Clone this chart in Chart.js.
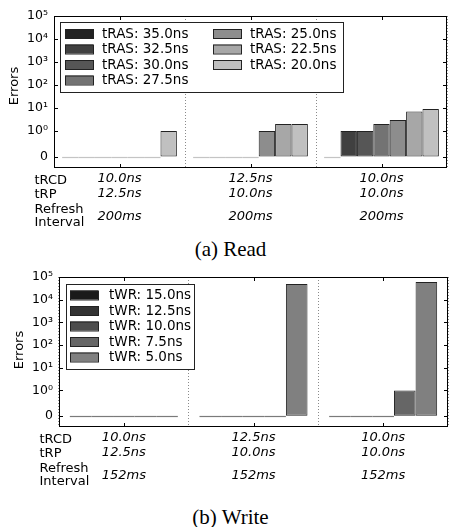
<!DOCTYPE html>
<html>
<head>
<meta charset="utf-8">
<script src="https://cdn.jsdelivr.net/npm/chart.js@4"></script>
<style>
  body { margin: 0; background: #fff; }
  #wrap { position: relative; width: 453px; height: 527px; overflow: hidden; }
  canvas { position: absolute; left: 0; }
  .cap { position: absolute; left: 4px; width: 453px; text-align: center; font-family: 'Liberation Serif', 'Times New Roman', serif; font-size: 21px; line-height: 24px; }
</style>
</head>
<body>
<div id="wrap">
  <canvas id="readChart" width="453" height="235" style="top:0px"></canvas>
  <div class="cap" style="top:237px">(a) Read</div>
  <canvas id="writeChart" width="453" height="235" style="top:262px"></canvas>
  <div class="cap" style="top:505px">(b) Write</div>
</div>
<script>
// three timing configurations (one bar group each)
const groups = ['A', 'B', 'C']
const tRCD = ['10.0ns', '12.5ns', '10.0ns']
const tRP = ['12.5ns', '10.0ns', '10.0ns']
const readRefresh = ['200ms', '200ms', '200ms']
const writeRefresh = ['152ms', '152ms', '152ms']

// read: tRAS sweep
const readLabels = ['tRAS: 35.0ns', 'tRAS: 32.5ns', 'tRAS: 30.0ns', 'tRAS: 27.5ns', 'tRAS: 25.0ns', 'tRAS: 22.5ns', 'tRAS: 20.0ns']
const readColors = ['#222222', '#404040', '#565656', '#737373', '#8d8d8d', '#a7a7a7', '#c0c0c0']
const readErrors = [
  [0, 0, 0],
  [0, 0, 1],
  [0, 0, 1],
  [0, 0, 2],
  [0, 1, 3],
  [0, 2, 7],
  [1, 2, 9],
]

// write: tWR sweep
const writeLabels = ['tWR: 15.0ns', 'tWR: 12.5ns', 'tWR: 10.0ns', 'tWR: 7.5ns', 'tWR: 5.0ns']
const writeColors = ['#1a1a1a', '#333333', '#4d4d4d', '#666666', '#808080']
const writeErrors = [
  [0, 0, 0],
  [0, 0, 0],
  [0, 0, 0],
  [0, 0, 1],
  [0, 49000, 60000],
]

const tickValues = [0, 1, 10, 100, 1000, 10000, 100000]
const tickLabels = ['0', '10\u2070', '10\u00b9', '10\u00b2', '10\u00b3', '10\u2074', '10\u2075']

// matplotlib style symlog, linthresh 1, linscale 1
const linScale = 1 / (1 - 1 / 10)
function symlog(v) {
  return v <= 1 ? v * linScale : Math.log10(v) + linScale
}

const FONT = "'DejaVu Sans', sans-serif"

const paperPlugin = {
  id: 'paper',
  afterDatasetsDraw(chart, args, opts) {
    // zero height bars show as a flat line on the baseline
    const ctx = chart.ctx
    ctx.save()
    ctx.strokeStyle = opts.zeroColor
    ctx.lineWidth = 1.2
    chart.data.datasets.forEach((ds, i) => {
      chart.getDatasetMeta(i).data.forEach((el, j) => {
        if (ds.raw[j] !== 0) return
        ctx.beginPath()
        ctx.moveTo(el.x - el.width / 2, Math.round(el.y) + 0.5)
        ctx.lineTo(el.x + el.width / 2, Math.round(el.y) + 0.5)
        ctx.stroke()
      })
    })
    ctx.restore()
  },
  afterDraw(chart, args, opts) {
    const ctx = chart.ctx
    const ca = chart.chartArea
    const xs = chart.scales.x
    const ys = chart.scales.y
    ctx.save()

    // legend box
    const lg = opts.legend
    ctx.fillStyle = '#fff'
    ctx.fillRect(lg.box[0], lg.box[1], lg.box[2], lg.box[3])
    ctx.strokeStyle = '#222'
    ctx.lineWidth = 1
    ctx.strokeRect(lg.box[0] + 0.5, lg.box[1] + 0.5, lg.box[2], lg.box[3])
    ctx.font = '13.5px ' + FONT
    ctx.textBaseline = 'middle'
    ctx.textAlign = 'left'
    chart.data.datasets.forEach((ds, i) => {
      const col = Math.floor(i / lg.rows)
      const row = i % lg.rows
      const sx = lg.cols[col]
      const sy = lg.y0 + row * lg.step
      ctx.fillStyle = ds.backgroundColor
      ctx.fillRect(sx, sy - 4.5, 28, 9)
      ctx.strokeStyle = '#222'
      ctx.strokeRect(sx + 0.5, sy - 4.5 + 0.5, 28, 9)
      ctx.fillStyle = '#000'
      ctx.fillText(ds.label, sx + lg.textGap, sy + 0.5)
    })

    // frame and inward ticks
    ctx.strokeStyle = '#000'
    ctx.lineWidth = 1
    ctx.strokeRect(ca.left + 0.5, ca.top + 0.5, ca.right - ca.left - 1, ca.bottom - ca.top - 1)
    ctx.beginPath()
    ys.ticks.forEach(t => {
      const y = Math.round(ys.getPixelForValue(t.value)) + 0.5
      ctx.moveTo(ca.left, y); ctx.lineTo(ca.left + 4, y)
      ctx.moveTo(ca.right, y); ctx.lineTo(ca.right - 4, y)
    })
    groups.forEach((g, i) => {
      const x = Math.round(xs.getPixelForValue(i)) + 0.5
      ctx.moveTo(x, ca.bottom); ctx.lineTo(x, ca.bottom - 4)
      ctx.moveTo(x, ca.top); ctx.lineTo(x, ca.top + 4)
    })
    ctx.stroke()

    // axis title
    ctx.fillStyle = '#000'
    ctx.font = '13px ' + FONT
    ctx.save()
    ctx.translate(ca.left - 39, opts.titleY)
    ctx.rotate(-Math.PI / 2)
    ctx.textAlign = 'center'
    ctx.textBaseline = 'middle'
    ctx.fillText('Errors', 0, 0)
    ctx.restore()

    // timing table under the axis
    ctx.textBaseline = 'middle'
    ctx.textAlign = 'left'
    const lx = ca.left - 19.5
    ctx.fillText('tRCD', lx, ca.bottom + 12.7)
    ctx.fillText('tRP', lx, ca.bottom + 26.8)
    ctx.fillText('Refresh', lx, ca.bottom + 41.7)
    ctx.fillText('Interval', lx, ca.bottom + 54.2)
    ctx.font = 'italic 13px ' + FONT
    ctx.textAlign = 'center'
    groups.forEach((g, i) => {
      const x = xs.getPixelForValue(i)
      ctx.fillText(tRCD[i], x, ca.bottom + 11)
      ctx.fillText(tRP[i], x, ca.bottom + 25.5)
      ctx.fillText(opts.refresh[i], x, ca.bottom + 48.5)
    })
    ctx.restore()
  },
}

function makeChart(id, labels, colors, errors, cfg) {
  return new Chart(document.getElementById(id).getContext('2d'), {
    type: 'bar',
    data: {
      labels: groups,
      datasets: labels.map((lab, i) => ({
        label: lab,
        raw: errors[i],
        data: errors[i].map(symlog),
        backgroundColor: colors[i],
        borderColor: '#222',
        borderWidth: 1,
        borderSkipped: false,
        categoryPercentage: cfg.catPct,
        barPercentage: 1,
      })),
    },
    options: {
      responsive: false,
      animation: false,
      layout: { padding: { top: cfg.top, right: cfg.right, left: 0, bottom: 0 } },
      scales: {
        x: {
          offset: true,
          grid: { offset: true, color: '#8a8a8a', lineWidth: 1, drawTicks: false },
          border: { display: false, dash: [1, 2] },
          ticks: { display: false },
          afterFit: s => { s.height = cfg.xHeight },
        },
        y: {
          min: -0.5,
          max: symlog(100000),
          grid: { display: false, drawTicks: false },
          border: { display: false },
          afterBuildTicks: s => { s.ticks = tickValues.map(v => ({ value: symlog(v) })) },
          ticks: {
            padding: 6,
            color: '#000',
            font: { family: FONT, size: 12.5 },
            callback: (v, i) => tickLabels[i],
          },
          afterFit: s => { s.width = cfg.yWidth },
        },
      },
      plugins: {
        legend: { display: false },
        tooltip: { enabled: false },
        paper: cfg.paper,
      },
    },
    plugins: [paperPlugin],
  })
}

makeChart('readChart', readLabels, readColors, readErrors, {
  catPct: 0.876, top: 16, right: 6, xHeight: 67, yWidth: 54,
  paper: {
    zeroColor: '#c4c4c4',
    titleY: 86,
    refresh: readRefresh,
    legend: { box: [60, 22, 283, 70], cols: [65, 213], rows: 4, y0: 33.5, step: 15.5, textGap: 37 },
  },
})

makeChart('writeChart', writeLabels, writeColors, writeErrors, {
  catPct: 0.833, top: 15, right: 5, xHeight: 70, yWidth: 59,
  paper: {
    zeroColor: '#7a7a7a',
    titleY: 88,
    refresh: writeRefresh,
    legend: { box: [66, 22, 128, 85], cols: [70], rows: 5, y0: 33, step: 15.5, textGap: 39 },
  },
})
</script>
</body>
</html>
